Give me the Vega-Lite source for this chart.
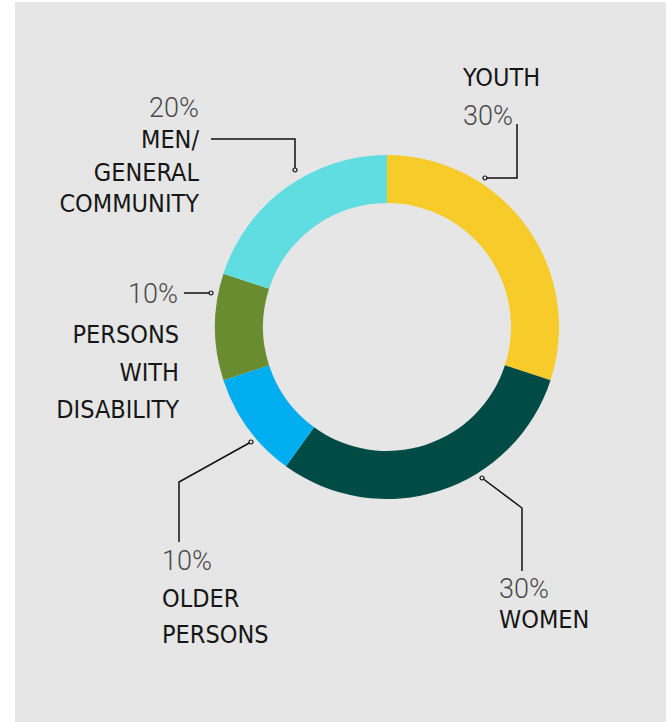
{
  "$schema": "https://vega.github.io/schema/vega-lite/v6.json",
  "autosize": {"type": "fit", "contains": "padding"},
  "width": 666,
  "height": 722,
  "padding": {"left": 15, "top": 2, "right": 0, "bottom": 0},
  "background": "#ffffff",
  "config": {"view": {"fill": "#e6e6e6", "stroke": null}},
  "datasets": {
    "slices": [
      {"group": "YOUTH", "share": 30, "order": 1},
      {"group": "WOMEN", "share": 30, "order": 2},
      {"group": "OLDER PERSONS", "share": 10, "order": 3},
      {"group": "PERSONS WITH DISABILITY", "share": 10, "order": 4},
      {"group": "MEN/GENERAL COMMUNITY", "share": 20, "order": 5}
    ],
    "leaders": [
      {"group": "YOUTH", "step": 1, "x": 130, "y": 203},
      {"group": "YOUTH", "step": 2, "x": 130, "y": 149},
      {"group": "YOUTH", "step": 3, "x": 98, "y": 149},
      {"group": "MEN", "step": 1, "x": -176, "y": 188},
      {"group": "MEN", "step": 2, "x": -92, "y": 188},
      {"group": "MEN", "step": 3, "x": -92, "y": 157},
      {"group": "DIS", "step": 1, "x": -203, "y": 34},
      {"group": "DIS", "step": 2, "x": -176, "y": 34},
      {"group": "OLD", "step": 1, "x": -136, "y": -115},
      {"group": "OLD", "step": 2, "x": -208, "y": -155},
      {"group": "OLD", "step": 3, "x": -208, "y": -215},
      {"group": "WOM", "step": 1, "x": 95, "y": -151},
      {"group": "WOM", "step": 2, "x": 135, "y": -181},
      {"group": "WOM", "step": 3, "x": 135, "y": -244}
    ],
    "dots": [
      {"group": "YOUTH", "x": 98, "y": 149},
      {"group": "MEN", "x": -92, "y": 157},
      {"group": "DIS", "x": -176, "y": 34},
      {"group": "OLD", "x": -136, "y": -115},
      {"group": "WOM", "x": 95, "y": -151}
    ],
    "labels": [
      {"kind": "pct", "side": "left", "x": 76, "y": 202, "text": "30%"},
      {"kind": "name", "side": "left", "x": 76, "y": 241, "text": "YOUTH"},
      {"kind": "pct", "side": "right", "x": -188, "y": 210, "text": "20%"},
      {"kind": "name", "side": "right", "x": -188, "y": 179, "text": "MEN/"},
      {"kind": "name", "side": "right", "x": -188, "y": 146, "text": "GENERAL"},
      {"kind": "name", "side": "right", "x": -188, "y": 115, "text": "COMMUNITY"},
      {"kind": "pct", "side": "right", "x": -209, "y": 24, "text": "10%"},
      {"kind": "name", "side": "right", "x": -208, "y": -16, "text": "PERSONS"},
      {"kind": "name", "side": "right", "x": -208, "y": -54, "text": "WITH"},
      {"kind": "name", "side": "right", "x": -208, "y": -91, "text": "DISABILITY"},
      {"kind": "pct", "side": "left", "x": -225, "y": -243, "text": "10%"},
      {"kind": "name", "side": "left", "x": -225, "y": -280, "text": "OLDER"},
      {"kind": "name", "side": "left", "x": -225, "y": -316, "text": "PERSONS"},
      {"kind": "pct", "side": "left", "x": 112, "y": -271, "text": "30%"},
      {"kind": "name", "side": "left", "x": 112, "y": -301, "text": "WOMEN"}
    ]
  },
  "layer": [
    {
      "data": {"name": "slices"},
      "mark": {"type": "arc", "radius": 172, "radius2": 124, "stroke": null},
      "encoding": {
        "x": {"datum": 0, "type": "quantitative", "scale": {"domain": [-372, 279], "nice": false, "zero": false}, "axis": null},
        "y": {"datum": 0, "type": "quantitative", "scale": {"domain": [-395, 325], "nice": false, "zero": false}, "axis": null},
        "theta": {"field": "share", "type": "quantitative", "stack": true},
        "order": {"field": "order", "type": "quantitative"},
        "color": {
          "field": "group", "type": "nominal", "legend": null,
          "scale": {
            "domain": ["YOUTH", "WOMEN", "OLDER PERSONS", "PERSONS WITH DISABILITY", "MEN/GENERAL COMMUNITY"],
            "range": ["#f7cb2a", "#004b45", "#00aeef", "#688c2f", "#5fdde0"]
          }
        }
      }
    },
    {
      "data": {"name": "leaders"},
      "mark": {"type": "line", "color": "#111111", "strokeWidth": 1.5},
      "encoding": {
        "x": {"field": "x", "type": "quantitative"},
        "y": {"field": "y", "type": "quantitative"},
        "detail": {"field": "group", "type": "nominal"},
        "order": {"field": "step", "type": "quantitative"}
      }
    },
    {
      "data": {"name": "dots"},
      "mark": {"type": "point", "shape": "circle", "size": 16, "filled": true, "fill": "#e6e6e6", "stroke": "#111111", "strokeWidth": 1.2, "opacity": 1},
      "encoding": {
        "x": {"field": "x", "type": "quantitative"},
        "y": {"field": "y", "type": "quantitative"}
      }
    },
    {
      "data": {"name": "labels"},
      "transform": [{"filter": "datum.kind === 'name' && datum.side === 'left'"}],
      "mark": {"type": "text", "align": "left", "baseline": "alphabetic", "font": "DejaVu Sans Condensed", "fontSize": 25, "color": "#161616"},
      "encoding": {
        "x": {"field": "x", "type": "quantitative"},
        "y": {"field": "y", "type": "quantitative"},
        "text": {"field": "text"}
      }
    },
    {
      "data": {"name": "labels"},
      "transform": [{"filter": "datum.kind === 'name' && datum.side === 'right'"}],
      "mark": {"type": "text", "align": "right", "baseline": "alphabetic", "font": "DejaVu Sans Condensed", "fontSize": 25, "color": "#161616"},
      "encoding": {
        "x": {"field": "x", "type": "quantitative"},
        "y": {"field": "y", "type": "quantitative"},
        "text": {"field": "text"}
      }
    },
    {
      "data": {"name": "labels"},
      "transform": [{"filter": "datum.kind === 'pct' && datum.side === 'left'"}],
      "mark": {"type": "text", "align": "left", "baseline": "alphabetic", "font": "Roboto", "fontWeight": 300, "fontSize": 27, "color": "#4a4a4a"},
      "encoding": {
        "x": {"field": "x", "type": "quantitative"},
        "y": {"field": "y", "type": "quantitative"},
        "text": {"field": "text"}
      }
    },
    {
      "data": {"name": "labels"},
      "transform": [{"filter": "datum.kind === 'pct' && datum.side === 'right'"}],
      "mark": {"type": "text", "align": "right", "baseline": "alphabetic", "font": "Roboto", "fontWeight": 300, "fontSize": 27, "color": "#4a4a4a"},
      "encoding": {
        "x": {"field": "x", "type": "quantitative"},
        "y": {"field": "y", "type": "quantitative"},
        "text": {"field": "text"}
      }
    }
  ]
}
